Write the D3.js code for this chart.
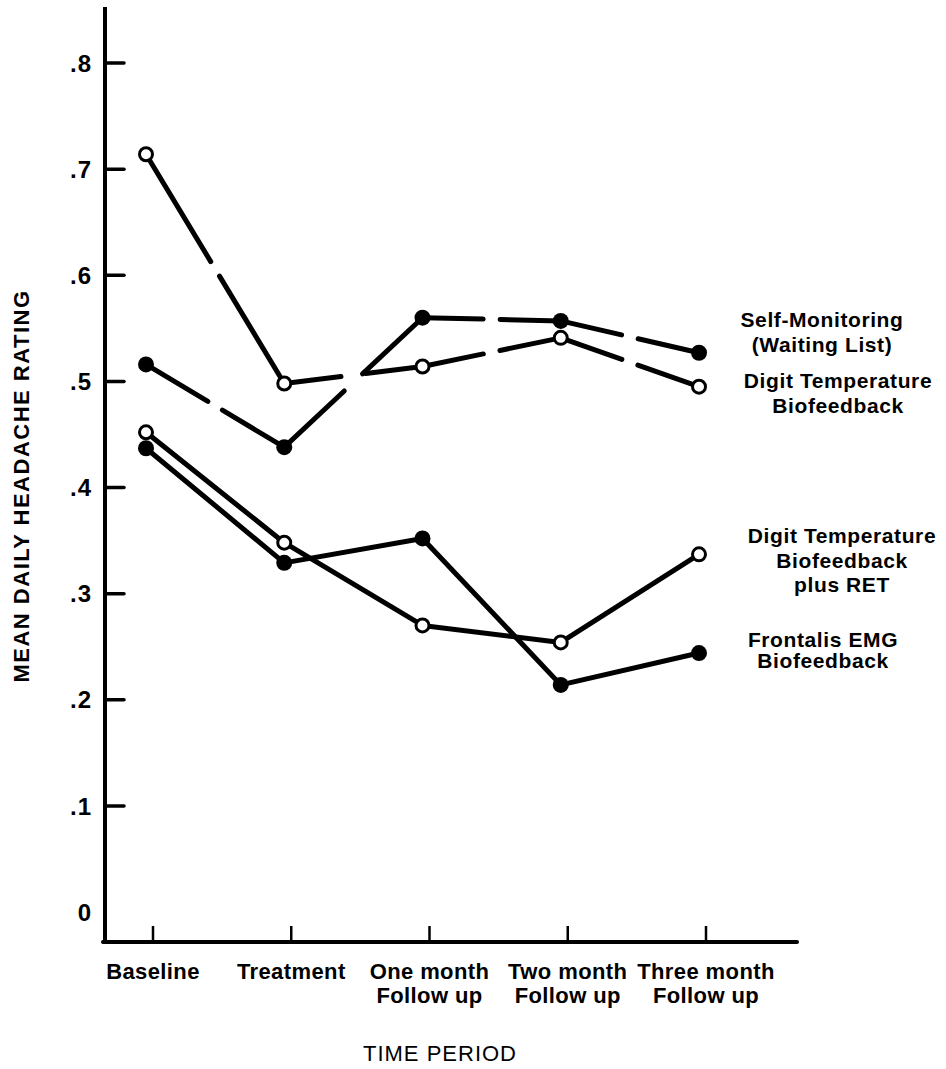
<!DOCTYPE html>
<html>
<head>
<meta charset="utf-8">
<script src="https://cdn.jsdelivr.net/npm/d3@7"></script>
<style>
  html, body { margin: 0; padding: 0; background: #fff; }
  svg { display: block; }
  text { font-family: "Liberation Sans", Arial, sans-serif; fill: #000; }
</style>
</head>
<body>
<svg id="chart" width="946" height="1069"></svg>
<script>
// ---- data ----
const periods = ["Baseline", "Treatment", "One month", "Two month", "Three month"];
const periodLabels = [["Baseline"], ["Treatment"], ["One month", "Follow up"], ["Two month", "Follow up"], ["Three month", "Follow up"]];
const yTicks = [0, 0.1, 0.2, 0.3, 0.4, 0.5, 0.6, 0.7, 0.8];

const selfMonitoring = [0.516, 0.438, 0.560, 0.557, 0.527];      // filled, dashed
const digitTemp      = [0.714, 0.498, 0.514, 0.541, 0.495];      // open, dashed
const digitTempRET   = [0.452, 0.348, 0.270, 0.254, 0.337];      // open, solid
const frontalisEMG   = [0.437, 0.329, 0.352, 0.214, 0.244];      // filled, solid

const seriesNames = ["Self-Monitoring", "Digit Temperature Biofeedback", "Digit Temperature Biofeedback plus RET", "Frontalis EMG Biofeedback"];
const labelLines = [
  ["Self-Monitoring", "(Waiting List)"],
  ["Digit Temperature", "Biofeedback"],
  ["Digit Temperature", "Biofeedback", "plus RET"],
  ["Frontalis EMG", "Biofeedback"]
];

// ---- layout / style ----
const series = [
  { name: seriesNames[0], values: selfMonitoring, open: false, dashed: true },
  { name: seriesNames[1], values: digitTemp, open: true, dashed: true },
  { name: seriesNames[2], values: digitTempRET, open: true, dashed: false },
  { name: seriesNames[3], values: frontalisEMG, open: false, dashed: false }
];
const labelPos = [
  { x: 822, y: 327 }, { x: 838, y: 388 }, { x: 842, y: 543 }, { x: 823, y: 647 }
];

const svg = d3.select("#chart");
const x = d3.scalePoint().domain(periods).range([146, 699]);
const y = d3.scaleLinear().domain([0, 0.8]).range([912, 63]);
const axisX = 105, axisY = 942, axisTop = 7, axisRight = 797;
const tickOffset = 7;

// axes
svg.append("line").attr("x1", axisX).attr("x2", axisX).attr("y1", axisTop).attr("y2", axisY + 2)
  .attr("stroke", "#000").attr("stroke-width", 4);
svg.append("line").attr("x1", axisX - 2).attr("x2", axisRight).attr("y1", axisY).attr("y2", axisY)
  .attr("stroke", "#000").attr("stroke-width", 4).attr("stroke-linecap", "round");

// y ticks
svg.selectAll(".ytick").data(yTicks.filter(d => d > 0)).enter().append("line")
  .attr("x1", axisX).attr("x2", axisX + 19)
  .attr("y1", d => y(d)).attr("y2", d => y(d))
  .attr("stroke", "#000").attr("stroke-width", 3.5).attr("stroke-linecap", "round");
svg.selectAll(".ylab").data(yTicks).enter().append("text")
  .attr("x", 92).attr("y", d => y(d)).attr("dy", "0.36em")
  .attr("text-anchor", "end").attr("font-size", 24).attr("font-weight", "bold")
  .attr("letter-spacing", 1)
  .text(d => d === 0 ? "0" : d3.format(".1f")(d).replace(/^0/, ""));

// x ticks
svg.selectAll(".xtick").data(periods).enter().append("line")
  .attr("x1", d => x(d) + tickOffset).attr("x2", d => x(d) + tickOffset)
  .attr("y1", axisY).attr("y2", axisY - 16)
  .attr("stroke", "#000").attr("stroke-width", 2.5);
periods.forEach((p, i) => {
  const t = svg.append("text").attr("text-anchor", "middle")
    .attr("font-size", 22).attr("font-weight", "bold").attr("letter-spacing", 0.4);
  periodLabels[i].forEach((line, j) => {
    t.append("tspan").attr("x", x(p) + tickOffset).attr("y", 979 + j * 24).text(line);
  });
});

// axis titles
svg.append("text").attr("x", 440).attr("y", 1061).attr("text-anchor", "middle")
  .attr("font-size", 22).attr("letter-spacing", 1).text("TIME PERIOD");
svg.append("text").attr("transform", "translate(29,486) rotate(-90)")
  .attr("text-anchor", "middle").attr("font-size", 22).attr("font-weight", "bold")
  .attr("letter-spacing", 1.5)
  .text("MEAN DAILY HEADACHE RATING");

// lines
const lw = 5;
series.forEach((s, si) => {
  const pts = s.values.map((v, i) => [x(periods[i]), y(v)]);
  for (let i = 0; i < pts.length - 1; i++) {
    const [x1, y1] = pts[i], [x2, y2] = pts[i + 1];
    const seg = svg.append("line").attr("x1", x1).attr("y1", y1).attr("x2", x2).attr("y2", y2)
      .attr("stroke", "#000").attr("stroke-width", lw).attr("stroke-linecap", "round");
    if (s.dashed) {
      const L = Math.hypot(x2 - x1, y2 - y1);
      const gap = (i === 1 ? 20 : 12) + lw;
      const first = L / 2 - gap / 2;
      seg.attr("stroke-dasharray", `${first} ${gap} ${L}`);
    }
  }
});

// markers
series.forEach(s => {
  svg.selectAll(null).data(s.values).enter().append("circle")
    .attr("cx", (d, i) => x(periods[i])).attr("cy", d => y(d))
    .attr("r", s.open ? 6.5 : 8)
    .attr("fill", s.open ? "#fff" : "#000")
    .attr("stroke", "#000").attr("stroke-width", s.open ? 3 : 0);
});

// series labels
labelLines.forEach((lines, i) => {
  const t = svg.append("text").attr("text-anchor", "middle")
    .attr("font-size", 21).attr("font-weight", "bold").attr("letter-spacing", 0.6);
  lines.forEach((line, j) => {
    t.append("tspan").attr("x", labelPos[i].x).attr("y", labelPos[i].y + j * (i === 2 ? 24.5 : (i === 3 ? 21 : 25))).text(line);
  });
});
</script>
</body>
</html>
